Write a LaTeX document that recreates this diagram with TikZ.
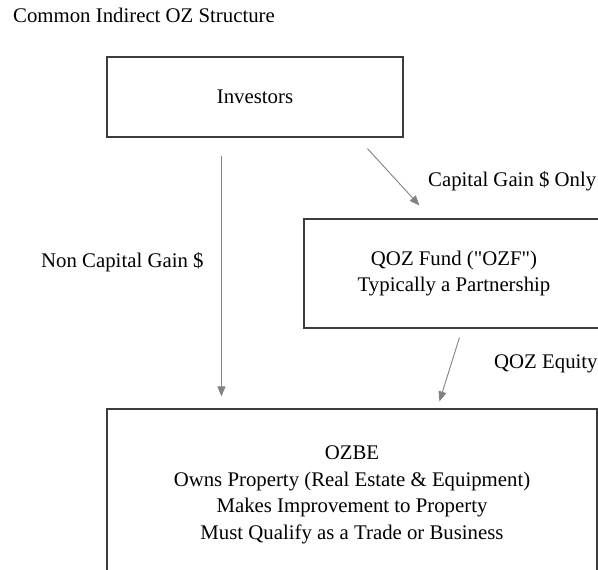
\documentclass[tikz,border=0pt]{standalone}
\usepackage{fontspec}
\setmainfont{Liberation Serif}
\usetikzlibrary{arrows.meta,positioning}
\definecolor{cLine}{RGB}{60,60,60}
\definecolor{cArrow}{RGB}{130,130,130}
\tikzset{
  basebox/.style={rectangle,draw=cLine,line width=1.1pt,align=center,
                  inner sep=0pt},
  lbl/.style={anchor=base west,inner sep=0pt},
  arr/.style={-{Triangle[length=10pt,width=8pt]},line width=0.9pt,color=cArrow}
}

\begin{document}
\begin{tikzpicture}[x=1pt,y=-1pt,font=\fontsize{20.8}{26.7}\selectfont]
  \useasboundingbox (0,0) rectangle (598,570);
  \clip (0,0) rectangle (598,570);

  \node[lbl] (title) at (13,23) {Common Indirect OZ Structure};

  \node[basebox,minimum width=296pt,minimum height=80pt] (invest) at (255,97)
      {Investors};

  \node[basebox,minimum width=300pt,minimum height=109pt] (fund) at (454,273.5)
      {QOZ Fund (\textquotedbl OZF\textquotedbl)\\Typically a Partnership};

  \node[basebox,minimum width=490pt,minimum height=172pt] (ozbe) at (352,495)
      {OZBE\\Owns Property (Real Estate \& Equipment)\\
       Makes Improvement to Property\\Must Qualify as a Trade or Business};

  % labels next to the arrows
  \node[lbl] (capgain) at (428,186) {Capital Gain \$ Only};
  \node[lbl] (noncap) at (41,267) {Non Capital Gain \$};
  \node[lbl] (equity) at (494,368) {QOZ Equity};

  \draw[arr] ([xshift=115pt,yshift=-18pt]invest.south west)
          -- ([xshift=115pt,yshift=12pt]ozbe.north west);
  \draw[arr] ([xshift=261pt,yshift=-11pt]invest.south west)
          -- ([xshift=116pt,yshift=13pt]fund.north west);
  \draw[arr] ([xshift=156pt,yshift=-9pt]fund.south west)
          -- ([xshift=333pt,yshift=7pt]ozbe.north west);

\end{tikzpicture}
\end{document}
